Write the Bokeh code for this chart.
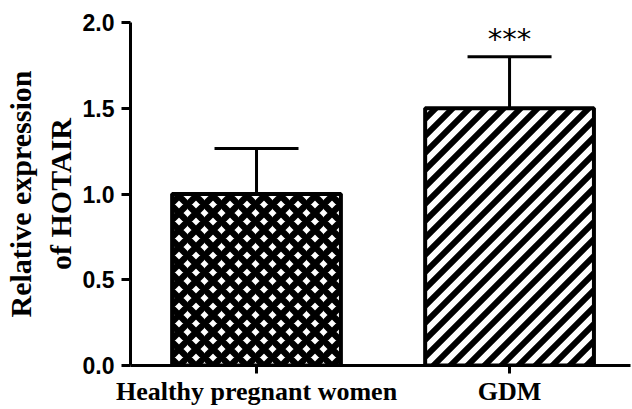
import base64
from bokeh.plotting import figure
from bokeh.models import (ColumnDataSource, Whisker, TeeHead, FixedTicker,
                          NumeralTickFormatter, Range1d, ImageURLTexture)
from bokeh.core.properties import value
from bokeh.embed import file_html
from bokeh.resources import INLINE

# ---- data ----
categories = ["Healthy pregnant women", "GDM"]
means = [1.0, 1.5]
sd = [0.265, 0.30]
significance = ["", "***"]
y_ticks = [0.0, 0.5, 1.0, 1.5, 2.0]

# ---- styles ----
patterns = ["diagonal_cross", "stripe45"]

tile_svg = (
    '<svg xmlns="http://www.w3.org/2000/svg" width="17" height="17" viewBox="0 0 17 17">'
    '<path d="M-6,23 L23,-6 M-6,6 L6,-6 M11,23 L23,11" stroke="black" stroke-width="6" fill="none"/>'
    '</svg>'
)
stripe = ImageURLTexture(
    url="data:image/svg+xml;base64," + base64.b64encode(tile_svg.encode()).decode())

xs = [i + 1 for i in range(len(categories))]
upper = [m + s for m, s in zip(means, sd)]

src = ColumnDataSource(dict(x=xs, top=means, lower=means, upper=upper, pat=patterns))

p = figure(width=632, height=409, output_backend="svg", toolbar_location=None,
           x_range=Range1d(0.502, 2.478), y_range=Range1d(0, 2.0),
           min_border_left=126, min_border_right=2, min_border_top=22, min_border_bottom=44)
p.outline_line_color = None
p.xgrid.visible = False
p.ygrid.visible = False
p.background_fill_color = "white"
p.border_fill_color = "white"

p.vbar(x="x", top="top", width=0.667, bottom=0, source=src,
       fill_color="white", line_color="black", line_width=4,
       hatch_pattern="pat", hatch_extra={"stripe45": stripe},
       hatch_color="black", hatch_weight=6.5, hatch_scale=17)

wh = Whisker(base="x", lower="lower", upper="upper", source=src,
             line_color="black", line_width=3,
             upper_head=TeeHead(size=84, line_width=3, line_color="black"),
             lower_head=None)
p.add_layout(wh)

# significance stars
star_y = [u + 0.105 for u in upper]
p.text(x=xs, y=star_y, text=significance, text_align="center", text_baseline="middle",
       text_font=value("DejaVu Sans"), text_font_size="29px", text_color="black")

# y axis
ya = p.yaxis[0]
ya.ticker = FixedTicker(ticks=y_ticks)
ya.formatter = NumeralTickFormatter(format="0.0")
ya.axis_line_width = 3
ya.major_tick_line_width = 3
ya.major_tick_out = 9
ya.major_tick_in = 0
ya.minor_tick_line_color = None
ya.major_label_standoff = 7
ya.major_label_text_font = "Liberation Sans"
ya.major_label_text_font_style = "bold"
ya.major_label_text_font_size = "23px"
ya.major_label_text_color = "black"
ya.axis_label = "Relative expression\nof HOTAIR"
ya.axis_label_text_font = "Liberation Serif"
ya.axis_label_text_font_style = "bold"
ya.axis_label_text_font_size = "30px"
ya.axis_label_text_color = "black"
ya.axis_label_standoff = 3

# x axis
xa = p.xaxis[0]
xa.ticker = FixedTicker(ticks=xs)
xa.major_label_overrides = {x: c for x, c in zip(xs, categories)}
xa.axis_line_width = 3
xa.major_tick_line_width = 3
xa.major_tick_out = 8
xa.major_tick_in = 0
xa.minor_tick_line_color = None
xa.major_label_standoff = 3
xa.major_label_text_font = "Liberation Serif"
xa.major_label_text_font_style = "bold"
xa.major_label_text_font_size = "26px"
xa.major_label_text_color = "black"

open("out.html", "w").write(file_html(p, INLINE))
